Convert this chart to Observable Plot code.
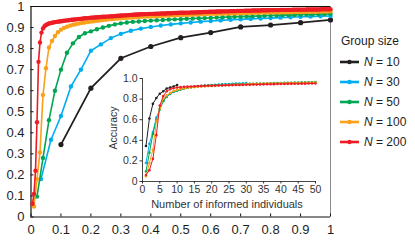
<!DOCTYPE html>
<html><head><meta charset="utf-8">
<script src="https://cdn.jsdelivr.net/npm/d3@7"></script>
<script src="https://cdn.jsdelivr.net/npm/@observablehq/plot@0.6"></script>
<style>
body{margin:0;background:#fff;}
#wrap{position:relative;width:415px;height:244px;font-family:"Liberation Sans",Arial,sans-serif;color:#1e1e1e;}
.lbl{position:absolute;white-space:nowrap;line-height:1;}
.leg{position:absolute;left:340px;display:flex;align-items:center;font-size:12px;line-height:1;white-space:nowrap;}
.leg svg{margin-right:5px;}
</style></head><body><div id="wrap"></div>
<script>
// Group sizes, colours and legend labels
const groupSizes = [10, 30, 50, 100, 200];
const groupColors = ["#231f20", "#00aeef", "#00a651", "#f9a11b", "#ed1c24"];
const legendLabels = ["10", "30", "50", "100", "200"];

// Accuracy per group, point k is k/N informed fraction (k = 1..N)
const acc10 = [0.344, 0.612, 0.754, 0.810, 0.852, 0.876, 0.903, 0.912, 0.923, 0.936];
const acc30 = [0.180, 0.367, 0.480, 0.620, 0.700, 0.790, 0.820, 0.850, 0.870, 0.885,
  0.895, 0.903, 0.910, 0.915, 0.920, 0.924, 0.928, 0.931, 0.934, 0.937,
  0.939, 0.941, 0.943, 0.945, 0.947, 0.949, 0.951, 0.952, 0.954, 0.955];
const acc50 = [0.097, 0.280, 0.460, 0.600, 0.700, 0.780, 0.825, 0.855, 0.873, 0.882,
  0.892, 0.900, 0.908, 0.915, 0.920, 0.924, 0.927, 0.929, 0.931, 0.933,
  0.935, 0.936, 0.938, 0.939, 0.940, 0.942, 0.943, 0.944, 0.945, 0.946,
  0.948, 0.949, 0.950, 0.951, 0.952, 0.953, 0.954, 0.955, 0.956, 0.957,
  0.958, 0.959, 0.959, 0.960, 0.961, 0.962, 0.962, 0.963, 0.964, 0.965];
const acc100 = [0.050, 0.180, 0.307, 0.580, 0.707, 0.805, 0.836, 0.860, 0.878, 0.890,
  0.898, 0.904, 0.909, 0.913, 0.916, 0.919, 0.922, 0.924, 0.926, 0.928,
  0.930, 0.932, 0.934, 0.936, 0.937, 0.939, 0.940, 0.942, 0.943, 0.944,
  0.945, 0.946, 0.947, 0.948, 0.949, 0.950, 0.951, 0.952, 0.952, 0.953,
  0.954, 0.955, 0.955, 0.956, 0.957, 0.957, 0.958, 0.958, 0.959, 0.960,
  0.960, 0.961, 0.961, 0.962, 0.962, 0.963, 0.963, 0.964, 0.964, 0.965,
  0.965, 0.965, 0.966, 0.966, 0.967, 0.967, 0.967, 0.968, 0.968, 0.968,
  0.969, 0.969, 0.969, 0.970, 0.970, 0.970, 0.971, 0.971, 0.971, 0.972,
  0.972, 0.972, 0.972, 0.973, 0.973, 0.973, 0.973, 0.974, 0.974, 0.974,
  0.974, 0.975, 0.975, 0.975, 0.975, 0.976, 0.976, 0.976, 0.976, 0.977];
const acc200 = [0.063, 0.110, 0.220, 0.450, 0.737, 0.829, 0.876, 0.896, 0.906, 0.912,
  0.916, 0.919, 0.921, 0.923, 0.924, 0.926, 0.927, 0.928, 0.929, 0.930,
  0.931, 0.932, 0.933, 0.934, 0.935, 0.936, 0.937, 0.937, 0.938, 0.939,
  0.940, 0.941, 0.941, 0.942, 0.943, 0.944, 0.944, 0.945, 0.946, 0.947,
  0.947, 0.948, 0.948, 0.949, 0.949, 0.950, 0.950, 0.951, 0.951, 0.952,
  0.952, 0.953, 0.953, 0.954, 0.954, 0.955, 0.955, 0.956, 0.956, 0.957,
  0.957, 0.958, 0.958, 0.959, 0.959, 0.960, 0.960, 0.961, 0.961, 0.962,
  0.962, 0.962, 0.963, 0.963, 0.963, 0.964, 0.964, 0.964, 0.965, 0.965,
  0.965, 0.965, 0.966, 0.966, 0.966, 0.966, 0.967, 0.967, 0.967, 0.967,
  0.968, 0.968, 0.968, 0.968, 0.969, 0.969, 0.969, 0.969, 0.970, 0.970,
  0.970, 0.970, 0.971, 0.971, 0.971, 0.971, 0.972, 0.972, 0.972, 0.972,
  0.973, 0.973, 0.973, 0.973, 0.974, 0.974, 0.974, 0.974, 0.975, 0.975,
  0.975, 0.975, 0.975, 0.976, 0.976, 0.976, 0.976, 0.977, 0.977, 0.977,
  0.977, 0.977, 0.978, 0.978, 0.978, 0.978, 0.978, 0.979, 0.979, 0.979,
  0.979, 0.979, 0.980, 0.980, 0.980, 0.980, 0.980, 0.981, 0.981, 0.981,
  0.981, 0.981, 0.981, 0.982, 0.982, 0.982, 0.982, 0.982, 0.982, 0.983,
  0.983, 0.983, 0.983, 0.983, 0.983, 0.983, 0.984, 0.984, 0.984, 0.984,
  0.984, 0.984, 0.984, 0.984, 0.985, 0.985, 0.985, 0.985, 0.985, 0.985,
  0.985, 0.985, 0.985, 0.986, 0.986, 0.986, 0.986, 0.986, 0.986, 0.986,
  0.986, 0.986, 0.986, 0.987, 0.987, 0.987, 0.987, 0.987, 0.987, 0.987];

// Tick values
const mainXTicks = [0, 0.1, 0.2, 0.3, 0.4, 0.5, 0.6, 0.7, 0.8, 0.9, 1];
const mainYTicks = [0, 0.1, 0.2, 0.3, 0.4, 0.5, 0.6, 0.7, 0.8, 0.9, 1];
const insetXTicks = [0, 5, 10, 15, 20, 25, 30, 35, 40, 45, 50];
const insetYTicks = [0, 0.2, 0.4, 0.6, 0.8, 1.0];

const series = [acc10, acc30, acc50, acc100, acc200];
const rows = groupSizes.flatMap((N, j) => series[j].map((a, i) => ({N, j, frac: (i + 1) / N, informed: i + 1, acc: a})));

const font = "'Liberation Sans', Arial, sans-serif";
const fmtMain = d => d === 0 ? "0" : d === 1 ? "1" : d3.format(".1f")(d);

const mainMarks = [
  Plot.ruleX([1], {stroke: "#8a8a8a", strokeWidth: 1}),
  Plot.ruleY([1], {stroke: "#111", strokeWidth: 1.2}),
  Plot.axisX(mainXTicks, {tickSize: -3, tickPadding: 11, tickFormat: fmtMain, label: null, stroke: "#111"}),
  Plot.axisY(mainYTicks, {tickSize: -3, tickPadding: 9.5, tickFormat: fmtMain, label: null, stroke: "#111"}),
  Plot.ruleX([0], {stroke: "#111", strokeWidth: 1.2}),
  Plot.ruleY([0], {stroke: "#111", strokeWidth: 1.2})
];
groupSizes.forEach((N, j) => {
  const d = rows.filter(r => r.N === N);
  mainMarks.push(Plot.line(d, {x: "frac", y: "acc", stroke: groupColors[j], strokeWidth: j === 0 ? 1.8 : 1.6}));
  mainMarks.push(Plot.dot(d, {x: "frac", y: "acc", fill: groupColors[j], r: j === 0 ? 2.6 : 2.2, stroke: "none"}));
});

const main = Plot.plot({
  width: 415, height: 244,
  marginLeft: 30.5, marginRight: 85, marginTop: 6, marginBottom: 27.5,
  x: {domain: [0, 1]}, y: {domain: [0, 1]},
  style: {fontFamily: font, fontSize: "13px", color: "#1e1e1e", background: "transparent", overflow: "visible"},
  marks: mainMarks
});

const insetMarks = [
  Plot.axisX(insetXTicks, {tickSize: 2.5, tickPadding: 1.5, label: null, stroke: "#333", fill: "#333"}),
  Plot.axisY(insetYTicks, {tickSize: 2.5, tickPadding: 2.5, label: null, tickFormat: d => d === 0 ? "0" : d3.format(".1f")(d), stroke: "#333", fill: "#333"}),
  Plot.ruleX([0], {stroke: "#333", strokeWidth: 0.9}),
  Plot.ruleY([0], {stroke: "#333", strokeWidth: 0.9})
];
groupSizes.forEach((N, j) => {
  const d = rows.filter(r => r.N === N && r.informed <= 50);
  insetMarks.push(Plot.line(d, {x: "informed", y: "acc", stroke: groupColors[j], strokeWidth: 1}));
  insetMarks.push(Plot.dot(d, {x: "informed", y: "acc", fill: groupColors[j], r: 1.3, stroke: "none"}));
});
const inset = Plot.plot({
  width: 230, height: 160,
  marginLeft: 42, marginRight: 15, marginTop: 18, marginBottom: 39,
  x: {domain: [0, 50]}, y: {domain: [0, 1]},
  style: {fontFamily: font, fontSize: "10.5px", color: "#333", background: "transparent", overflow: "visible"},
  marks: insetMarks
});

const wrap = document.getElementById("wrap");
wrap.appendChild(main);
inset.style.position = "absolute";
inset.style.left = "100px";
inset.style.top = "60px";
wrap.appendChild(inset);

function addLabel(text, x, y, size, rotate) {
  const el = document.createElement("div");
  el.className = "lbl";
  el.textContent = text;
  el.style.left = x + "px";
  el.style.top = y + "px";
  el.style.fontSize = size + "px";
  el.style.color = "#333";
  el.style.transform = "translate(-50%,-50%)" + (rotate ? " rotate(-90deg)" : "");
  wrap.appendChild(el);
}
addLabel("Accuracy", 113, 127.5, 10.5, true);
addLabel("Number of informed individuals", 227, 204, 11, false);

const title = document.createElement("div");
title.className = "lbl";
title.textContent = "Group size";
title.style.left = "341px"; title.style.top = "41px"; title.style.fontSize = "12px";
title.style.transform = "translateY(-50%)";
wrap.appendChild(title);

groupSizes.forEach((N, j) => {
  const row = document.createElement("div");
  row.className = "leg";
  row.style.top = (61.5 + 20 * j) + "px";
  row.style.transform = "translateY(-50%)";
  row.innerHTML = `<svg width="19" height="8"><line x1="0" x2="19" y1="4" y2="4" stroke="${groupColors[j]}" stroke-width="2.6"/><circle cx="9.5" cy="4" r="2.2" fill="${groupColors[j]}"/></svg><span><i>N</i> = ${legendLabels[j]}</span>`;
  wrap.appendChild(row);
});
</script></body></html>
